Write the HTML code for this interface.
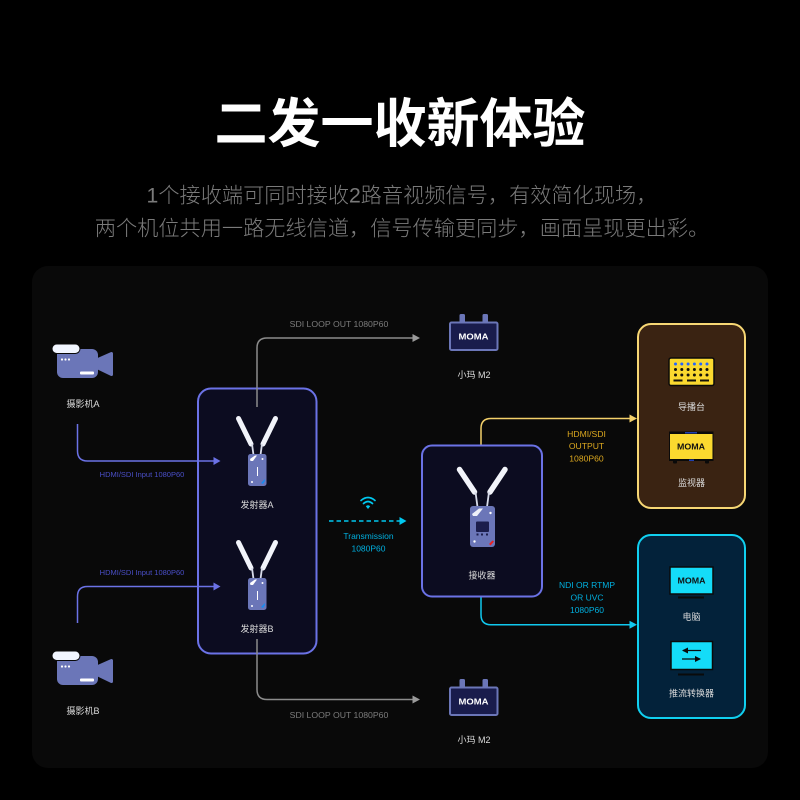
<!DOCTYPE html>
<html><head><meta charset="utf-8">
<style>
html,body{margin:0;padding:0;background:#000;width:800px;height:800px;overflow:hidden}
svg{display:block}
text{font-family:"Liberation Sans","Noto Sans CJK SC",sans-serif;text-anchor:middle}
.l{font-size:9px;fill:#dcdcdc}
.g{font-size:8.7px;fill:#7c7c7c}
.b{font-size:7.5px;fill:#4a4fc8}
.c{font-size:8.5px;fill:#00b0e0}
.y{font-size:8.6px;fill:#dca81f}
.lg{fill:none;stroke:#8c8c8c;stroke-width:1.5}
.mo{font-size:8px;font-weight:bold}
</style></head><body>
<svg width="800" height="800" viewBox="0 0 800 800" xmlns="http://www.w3.org/2000/svg">
<defs>
<g id="cam">
  <rect x="57" y="349" width="41" height="29" rx="6" fill="#6b76b8"/>
  <path d="M99 359L111.500 353.500V374.500L99 368.500Z" fill="#6b76b8" stroke="#6b76b8" stroke-width="3" stroke-linejoin="round"/>
  <rect x="52" y="344" width="28" height="9.500" rx="4.700" fill="#f2f6ff" stroke="#090909" stroke-width="1"/>
  <circle cx="62" cy="359.500" r="1.100" fill="#fff"/><circle cx="65.500" cy="359.500" r="1.100" fill="#fff"/><circle cx="69" cy="359.500" r="1.100" fill="#fff"/>
  <rect x="80" y="371.500" width="14" height="3" rx="1" fill="#fff"/>
</g>
<g id="tx">
  <path d="M238.500 418.500L251 444" stroke="#f2f4fa" stroke-width="5" stroke-linecap="round"/>
  <path d="M275.500 418.500L263 444" stroke="#f2f4fa" stroke-width="5" stroke-linecap="round"/>
  <path d="M252 444L253.500 455M262 444L260.500 455" stroke="#d8dcea" stroke-width="1.800"/>
  <rect x="248" y="454" width="18.500" height="32" rx="2.500" fill="#6b76b8"/>
  <path d="M250 459L255 455.500L257 455.500L253 461L250.500 461Z" fill="#fff"/>
  <circle cx="262.500" cy="459" r="1" fill="#fff"/><circle cx="252" cy="482" r="1" fill="#fff"/>
  <rect x="257" y="467" width="1" height="9" fill="#fff"/>
  <path d="M261 483L265 479V481L263 484Z" fill="#1a8cf0"/>
</g>
<g id="m2">
  <rect x="459.500" y="314" width="5.500" height="9" rx="1.500" fill="#6b76b8"/>
  <rect x="482.500" y="314" width="5.500" height="9" rx="1.500" fill="#6b76b8"/>
  <rect x="450" y="322.500" width="47.500" height="27.500" rx="1.500" fill="#191c4c" stroke="#6b76b8" stroke-width="2"/>
  <text class="mo" x="473.500" y="339.500" textLength="30" lengthAdjust="spacingAndGlyphs" style="fill:#fff">MOMA</text>
</g>
</defs>

<rect width="800" height="800" fill="#000"/>
<rect x="32" y="266" width="736" height="502" rx="16" fill="#090909"/>

<text x="400" y="142" style="font-size:53px;font-weight:bold;fill:#fff">二发一收新体验</text>
<text x="402" y="202.500" style="font-size:21.200px;font-weight:300;fill:#7a7a7a">1个接收端可同时接收2路音视频信号，有效简化现场，</text>
<text x="402" y="235.500" style="font-size:21.200px;font-weight:300;fill:#7a7a7a">两个机位共用一路无线信道，信号传输更同步，画面呈现更出彩。</text>

<!-- connectors under boxes -->
<path class="lg" d="M257 407V348Q257 338 267 338H414"/>
<path d="M412.500 334L420 338L412.500 342Z" fill="#9a9a9a"/>
<path class="lg" d="M257 639V689.500Q257 699.500 267 699.500H414"/>
<path d="M412.500 695.500L420 699.500L412.500 703.500Z" fill="#9a9a9a"/>
<path d="M481 446V428.500Q481 418.500 491 418.500H631" fill="none" stroke="#f3d06a" stroke-width="1.500"/>
<path d="M629.500 414.500L637 418.500L629.500 422.500Z" fill="#f3d06a"/>
<path d="M481 596V614.700Q481 624.700 491 624.700H631" fill="none" stroke="#10c8ee" stroke-width="1.500"/>
<path d="M629.500 620.700L637 624.700L629.500 628.700Z" fill="#10c8ee"/>

<!-- transmitter box -->
<rect x="198" y="388.500" width="118.500" height="265" rx="13" fill="#0c0c20" stroke="#6b72e6" stroke-width="2"/>
<path class="lg" d="M257 388V407"/>
<use href="#tx"/>
<use href="#tx" y="124"/>
<text class="l" x="257" y="508">发射器A</text>
<text class="l" x="257" y="632">发射器B</text>
<path class="lg" d="M257 639V654"/>

<!-- camera connectors -->
<path d="M77.500 424V451Q77.500 461 87.500 461H214" fill="none" stroke="#6b72e6" stroke-width="1.500"/>
<path d="M213.500 457L220.500 461L213.500 465Z" fill="#6b72e6"/>
<path d="M77.500 623V596.500Q77.500 586.500 87.500 586.500H214" fill="none" stroke="#6b72e6" stroke-width="1.500"/>
<path d="M213.500 582.500L220.500 586.500L213.500 590.500Z" fill="#6b72e6"/>
<text class="b" x="142" y="476.800">HDMI/SDI Input 1080P60</text>
<text class="b" x="142" y="574.800">HDMI/SDI Input 1080P60</text>

<use href="#cam"/>
<use href="#cam" y="307"/>
<text class="l" x="83" y="407">摄影机A</text>
<text class="l" x="83" y="714">摄影机B</text>

<!-- loop out -->
<text class="g" x="339" y="326.800">SDI LOOP OUT 1080P60</text>
<text class="g" x="339" y="717.800">SDI LOOP OUT 1080P60</text>
<use href="#m2"/>
<use href="#m2" y="365"/>
<text class="l" x="474" y="378">小玛 M2</text>
<text class="l" x="474" y="743">小玛 M2</text>

<!-- transmission -->
<g fill="none" stroke="#00c8f0" stroke-width="1.700" stroke-linecap="round">
  <path d="M361 500.500Q368 494.500 375 500.500"/>
  <path d="M363.500 503.500Q368 499.500 372.500 503.500"/>
</g>
<path d="M365.800 506.200Q368 504.300 370.200 506.200L368 509Z" fill="#00c8f0"/>
<path d="M329 521H400" stroke="#00c8f0" stroke-width="1.500" stroke-dasharray="4.500 3" fill="none"/>
<path d="M399.500 517L406.500 521L399.500 525Z" fill="#00c8f0"/>
<text class="c" x="368.500" y="539">Transmission</text>
<text class="c" x="368.500" y="551.500">1080P60</text>

<!-- receiver -->
<rect x="422" y="445.500" width="120" height="151" rx="10" fill="#0c0c20" stroke="#6b72e6" stroke-width="2"/>
<path d="M459.500 469.500L474.500 492" stroke="#f2f4fa" stroke-width="5.500" stroke-linecap="round"/>
<path d="M505 469.500L490 492" stroke="#f2f4fa" stroke-width="5.500" stroke-linecap="round"/>
<path d="M475.500 492L477.500 507M489 492L487 507" stroke="#d8dcea" stroke-width="1.800"/>
<rect x="470" y="506" width="25" height="41" rx="3" fill="#6b76b8"/>
<path d="M472 514L479 508.500H483L477 516H473Z" fill="#eef1fa"/>
<circle cx="490.500" cy="513" r="1.200" fill="#fff"/>
<rect x="476" y="521.500" width="13" height="10.500" rx="1" fill="#1b1d4c"/>
<rect x="476.500" y="533.500" width="2" height="2" fill="#1b1d4c"/><rect x="481" y="533.500" width="2" height="2" fill="#1b1d4c"/><rect x="486" y="533.500" width="2" height="2" fill="#1b1d4c"/>
<circle cx="474.500" cy="541.500" r="1.200" fill="#fff"/>
<path d="M489 544L492.500 540.500L494 541.500L490.500 545.500Z" fill="#f02020"/>
<text class="l" x="482" y="578.500">接收器</text>

<!-- yellow -->
<text class="y" x="586.500" y="437">HDMI/SDI</text>
<text class="y" x="586.500" y="449">OUTPUT</text>
<text class="y" x="586.500" y="461.500">1080P60</text>
<rect x="638" y="324" width="107" height="184" rx="13" fill="#3a2312" stroke="#f7d774" stroke-width="2"/>
<rect x="669" y="358" width="45" height="27.500" rx="2" fill="#fbd92f" stroke="#0a0a0a" stroke-width="1.500"/>
<g fill="#2464ff"><circle cx="675.500" cy="364" r="1.500"/><circle cx="681.800" cy="364" r="1.500"/><circle cx="688.100" cy="364" r="1.500"/><circle cx="694.400" cy="364" r="1.500"/><circle cx="700.700" cy="364" r="1.500"/><circle cx="707" cy="364" r="1.500"/></g>
<g fill="#15120a"><circle cx="675.500" cy="369.500" r="1.500"/><circle cx="681.800" cy="369.500" r="1.500"/><circle cx="688.100" cy="369.500" r="1.500"/><circle cx="694.400" cy="369.500" r="1.500"/><circle cx="700.700" cy="369.500" r="1.500"/><circle cx="707" cy="369.500" r="1.500"/>
<circle cx="675.500" cy="375" r="1.500"/><circle cx="681.800" cy="375" r="1.500"/><circle cx="688.100" cy="375" r="1.500"/><circle cx="694.400" cy="375" r="1.500"/><circle cx="700.700" cy="375" r="1.500"/><circle cx="707" cy="375" r="1.500"/>
<rect x="673.500" y="379.500" width="9" height="2"/><rect x="687" y="379.500" width="9" height="2"/><rect x="700" y="379.500" width="9" height="2"/></g>
<text class="l" x="691.500" y="410">导播台</text>
<rect x="669" y="431.500" width="44.500" height="29.500" fill="#0a0a0a"/>
<rect x="670" y="434" width="42.500" height="25" fill="#fbd92f"/>
<rect x="685" y="432" width="12" height="1.500" fill="#1f3fb0"/><rect x="689" y="459.500" width="5" height="1.500" fill="#1f3fb0"/>
<rect x="673" y="460" width="4" height="3.500" rx="1" fill="#0a0a0a"/><rect x="705" y="460" width="4" height="3.500" rx="1" fill="#0a0a0a"/>
<text class="mo" x="691" y="449.500" textLength="28" lengthAdjust="spacingAndGlyphs" style="fill:#111">MOMA</text>
<text class="l" x="691.500" y="486">监视器</text>

<!-- cyan -->
<text class="c" x="587" y="588">NDI OR RTMP</text>
<text class="c" x="587" y="600.500">OR UVC</text>
<text class="c" x="587" y="613">1080P60</text>
<rect x="638" y="535" width="107" height="183" rx="13" fill="#03223a" stroke="#10d0f0" stroke-width="2"/>
<rect x="670" y="567" width="43" height="27" fill="#14dcf8" stroke="#0a0a0a" stroke-width="1.500"/>
<rect x="678" y="596.500" width="26" height="2" fill="#0a0a0a"/>
<text class="mo" x="691.500" y="583.500" textLength="28" lengthAdjust="spacingAndGlyphs" style="fill:#111">MOMA</text>
<text class="l" x="691.500" y="620">电脑</text>
<rect x="671" y="641.500" width="41.500" height="28" fill="#14dcf8" stroke="#0a0a0a" stroke-width="1.500"/>
<rect x="678" y="673.500" width="26" height="2" fill="#0a0a0a"/>
<path d="M683 650.500H701" stroke="#0a0a0a" stroke-width="1.200"/><path d="M682 650.500L688 647.500V653.500Z" fill="#0a0a0a"/>
<path d="M682 659H700" stroke="#0a0a0a" stroke-width="1.200"/><path d="M701 659L695 656V662Z" fill="#0a0a0a"/>
<text class="l" x="691.500" y="696.500">推流转换器</text>
</svg>
</body></html>
